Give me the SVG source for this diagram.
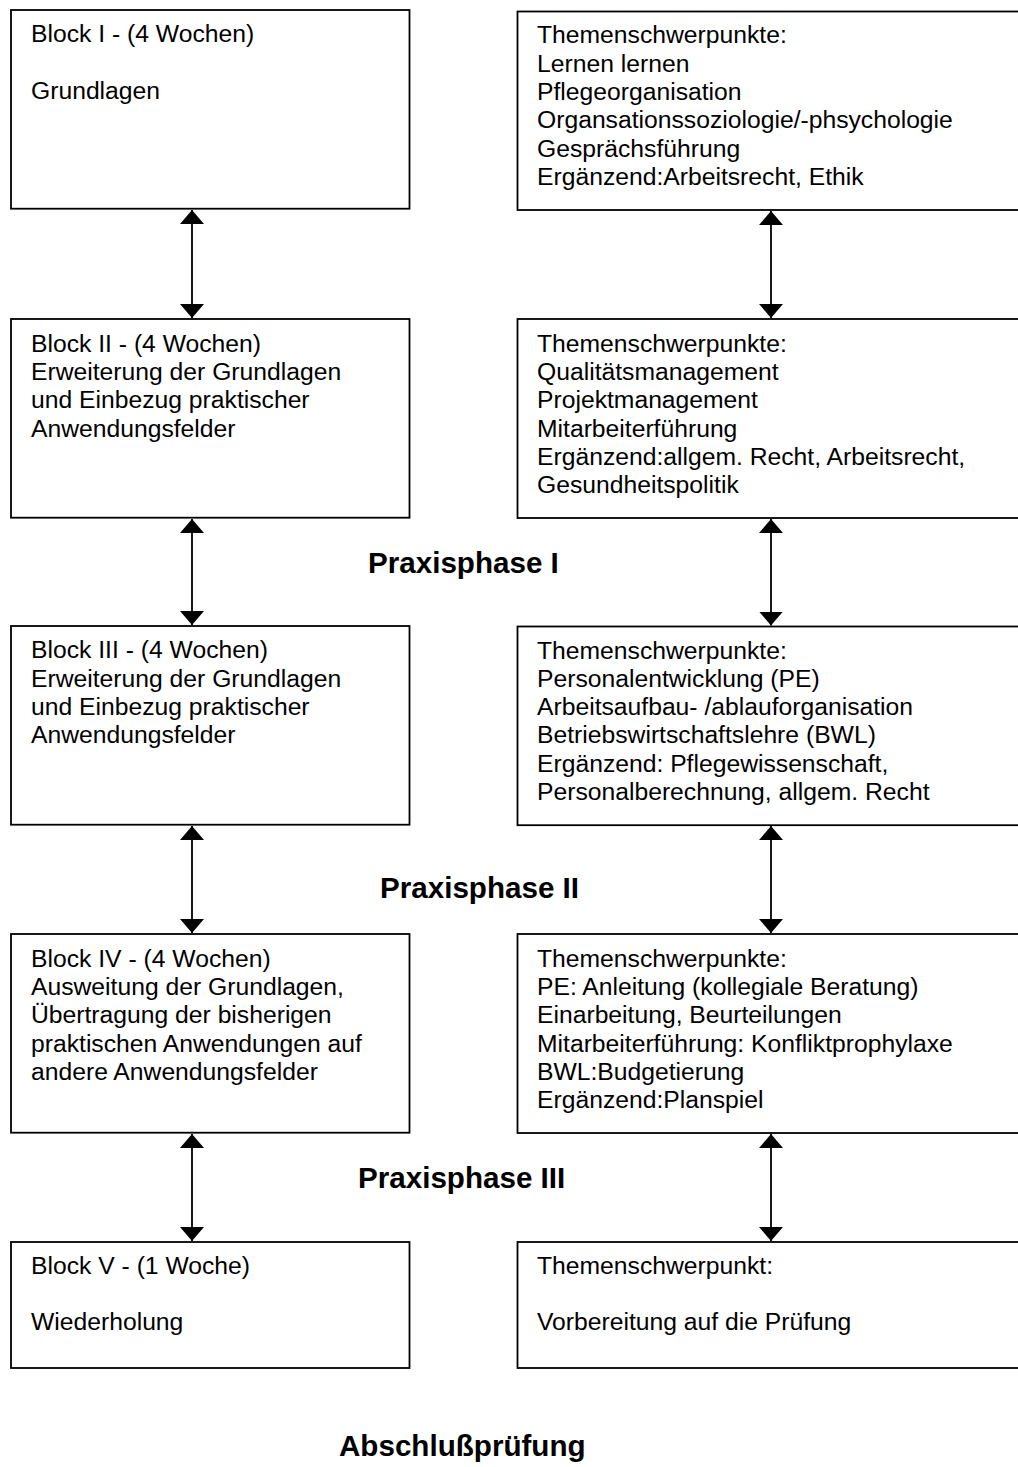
<svg xmlns="http://www.w3.org/2000/svg" width="1018" height="1467" viewBox="0 0 1018 1467">
<defs>
<marker id="ah" viewBox="0 0 14 24" refX="14" refY="12" markerWidth="14" markerHeight="24" markerUnits="userSpaceOnUse" orient="auto-start-reverse">
<path d="M0,0 L14,12 L0,24 z" fill="#000"/>
</marker>
</defs>
<style>
.box{fill:#fff;stroke:#000;stroke-width:1.8}
.t{font-family:"Liberation Sans",Arial,sans-serif;font-size:24.7px;fill:#000}
.h{font-family:"Liberation Sans",Arial,sans-serif;font-size:29.6px;font-weight:bold;fill:#000}
.c{stroke:#000;stroke-width:1.8;fill:none;marker-start:url(#ah);marker-end:url(#ah)}
</style>
<rect width="1018" height="1467" fill="#fff"/>

<g id="block1">
<rect class="box" x="11" y="10" width="398.5" height="198.7"/>
<text class="t" x="31" y="42"><tspan x="31">Block I - (4 Wochen)</tspan><tspan x="31" dy="56.6">Grundlagen</tspan></text>
</g>
<g id="themen1">
<rect class="box" x="517.5" y="11.5" width="520" height="198.5"/>
<text class="t" y="43.3"><tspan x="537">Themenschwerpunkte:</tspan><tspan x="537" dy="28.3">Lernen lernen</tspan><tspan x="537" dy="28.3">Pflegeorganisation</tspan><tspan x="537" dy="28.3">Organsationssoziologie/-phsychologie</tspan><tspan x="537" dy="28.3">Gesprächsführung</tspan><tspan x="537" dy="28.3">Ergänzend:Arbeitsrecht, Ethik</tspan></text>
</g>

<g id="block2">
<rect class="box" x="11" y="319" width="398.5" height="198.7"/>
<text class="t" y="351.7"><tspan x="31">Block II - (4 Wochen)</tspan><tspan x="31" dy="28.3">Erweiterung der Grundlagen</tspan><tspan x="31" dy="28.3">und Einbezug praktischer</tspan><tspan x="31" dy="28.3">Anwendungsfelder</tspan></text>
</g>
<g id="themen2">
<rect class="box" x="517.5" y="319" width="520" height="199"/>
<text class="t" y="351.7"><tspan x="537">Themenschwerpunkte:</tspan><tspan x="537" dy="28.3">Qualitätsmanagement</tspan><tspan x="537" dy="28.3">Projektmanagement</tspan><tspan x="537" dy="28.3">Mitarbeiterführung</tspan><tspan x="537" dy="28.3">Ergänzend:allgem. Recht, Arbeitsrecht,</tspan><tspan x="537" dy="28.3">Gesundheitspolitik</tspan></text>
</g>

<g id="block3">
<rect class="box" x="11" y="626" width="398.5" height="198.7"/>
<text class="t" y="658.3"><tspan x="31">Block III - (4 Wochen)</tspan><tspan x="31" dy="28.3">Erweiterung der Grundlagen</tspan><tspan x="31" dy="28.3">und Einbezug praktischer</tspan><tspan x="31" dy="28.3">Anwendungsfelder</tspan></text>
</g>
<g id="themen3">
<rect class="box" x="517.5" y="626.5" width="520" height="198.7"/>
<text class="t" y="658.5"><tspan x="537">Themenschwerpunkte:</tspan><tspan x="537" dy="28.3">Personalentwicklung (PE)</tspan><tspan x="537" dy="28.3">Arbeitsaufbau- /ablauforganisation</tspan><tspan x="537" dy="28.3">Betriebswirtschaftslehre (BWL)</tspan><tspan x="537" dy="28.3">Ergänzend: Pflegewissenschaft,</tspan><tspan x="537" dy="28.3">Personalberechnung, allgem. Recht</tspan></text>
</g>

<g id="block4">
<rect class="box" x="11" y="934" width="398.5" height="198.7"/>
<text class="t" y="966.7"><tspan x="31">Block IV - (4 Wochen)</tspan><tspan x="31" dy="28.3">Ausweitung der Grundlagen,</tspan><tspan x="31" dy="28.3">Übertragung der bisherigen</tspan><tspan x="31" dy="28.3">praktischen Anwendungen auf</tspan><tspan x="31" dy="28.3">andere Anwendungsfelder</tspan></text>
</g>
<g id="themen4">
<rect class="box" x="517.5" y="934" width="520" height="199"/>
<text class="t" y="966.7"><tspan x="537">Themenschwerpunkte:</tspan><tspan x="537" dy="28.3">PE: Anleitung (kollegiale Beratung)</tspan><tspan x="537" dy="28.3">Einarbeitung, Beurteilungen</tspan><tspan x="537" dy="28.3">Mitarbeiterführung: Konfliktprophylaxe</tspan><tspan x="537" dy="28.3">BWL:Budgetierung</tspan><tspan x="537" dy="28.3">Ergänzend:Planspiel</tspan></text>
</g>

<g id="block5">
<rect class="box" x="11" y="1242" width="398.5" height="126"/>
<text class="t" y="1273.5"><tspan x="31">Block V - (1 Woche)</tspan><tspan x="31" dy="56.6">Wiederholung</tspan></text>
</g>
<g id="themen5">
<rect class="box" x="517.5" y="1242" width="520" height="126"/>
<text class="t" y="1273.5"><tspan x="537">Themenschwerpunkt:</tspan><tspan x="537" dy="56.6">Vorbereitung auf die Prüfung</tspan></text>
</g>

<g id="phases">
<text class="h" x="368" y="573">Praxisphase I</text>
<text class="h" x="380" y="898">Praxisphase II</text>
<text class="h" x="358" y="1188">Praxisphase III</text>
<text class="h" x="339" y="1456">Abschlußprüfung</text>
</g>

<g id="connectors">
<line class="c" x1="192" y1="210" x2="192" y2="318"/>
<line class="c" x1="771" y1="211" x2="771" y2="318"/>
<line class="c" x1="192" y1="519" x2="192" y2="625"/>
<line class="c" x1="771" y1="519" x2="771" y2="625.5"/>
<line class="c" x1="192" y1="826" x2="192" y2="933"/>
<line class="c" x1="771" y1="826" x2="771" y2="933"/>
<line class="c" x1="192" y1="1134" x2="192" y2="1241"/>
<line class="c" x1="771" y1="1134" x2="771" y2="1241"/>
</g>
</svg>
